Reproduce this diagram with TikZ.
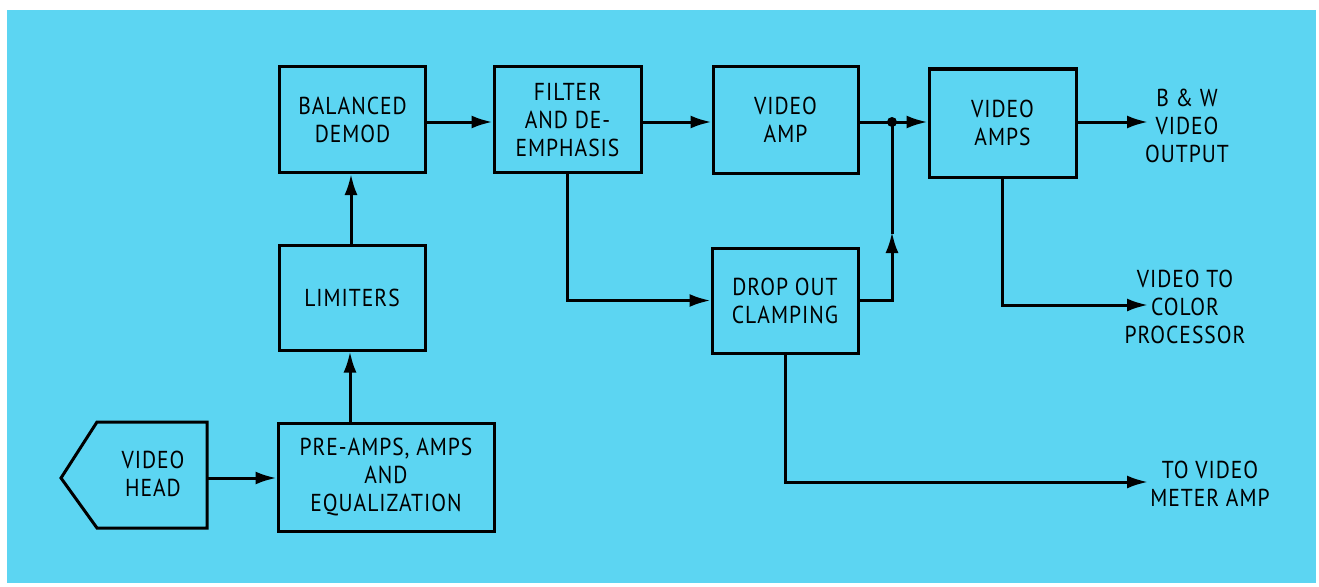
\documentclass[tikz,border=0pt]{standalone}
\usepackage{fontspec}
\setmainfont[LetterSpace=4,FakeStretch=0.88]{PT Sans}
\usetikzlibrary{arrows.meta}
\definecolor{bgblue}{HTML}{5CD5F2}
\begin{document}
\begin{tikzpicture}[x=1pt,y=-1pt,
  blk/.style={draw=black,line width=3pt,minimum width=146pt,minimum height=106pt,inner sep=0pt,align=center,font=\fontsize{24.5}{28}\selectfont},
  lbl/.style={align=center,font=\fontsize{24.5}{28}\selectfont,inner sep=0pt},
  wire/.style={line width=3pt,line cap=rect},
  arr/.style={wire,-{Latex[length=21pt,width=13pt]}}]
\useasboundingbox (0,0) rectangle (1319,586);
\fill[white] (0,0) rectangle (1319,586);
\fill[bgblue] (7,10) rectangle (1316,583);
% video head
\draw[line width=3pt,line join=miter] (61,478) -- (97,422) -- (207,422) -- (207,528) -- (97,528) -- cycle;
\node[lbl] (head) at (153,474) {VIDEO\\HEAD};
\coordinate (headR) at (207,478);
% blocks
\node[blk] (bal) at (352.5,119.5) {BALANCED\\DEMOD};
\node[blk,minimum height=105pt] (lim) at (352,297.5) {LIMITERS};
\node[blk,minimum width=216pt,minimum height=108pt] (pre) at (386,477) {PRE-AMPS, AMPS\\AND\\EQUALIZATION};
\node[blk,minimum width=147pt] (filt) at (567.5,119.5) {FILTER\\AND DE-\\EMPHASIS};
\node[blk,minimum width=145pt] (vamp) at (785.5,120) {VIDEO\\AMP};
\node[blk,minimum width=147pt,minimum height=108pt] (vamps) at (1002.5,123) {VIDEO\\AMPS};
\node[blk,minimum height=105pt] (drop) at (785,300.5) {DROP OUT\\CLAMPING};
% junction
\fill (892,122) circle (5pt);
\coordinate (junc) at (892,122);
\coordinate (upmid) at (892,232);
% outputs
\node[lbl] (bw) at (1187,126) {B \& W\\VIDEO\\OUTPUT};
\node[lbl] (color) at (1185,307) {VIDEO TO\\COLOR\\PROCESSOR};
\node[lbl] (meter) at (1210,484) {TO VIDEO\\METER AMP};
\coordinate (bwIn) at (1148,122);
\coordinate (colIn) at (1148,305);
\coordinate (metIn) at (1148,482);
% connectors
\draw[arr] (headR) -- (pre.west |- headR);
\draw[arr] (pre.north -| 350,0) -- (lim.south -| 350,0);
\draw[arr] (lim.north -| 351,0) -- (bal.south -| 351,0);
\draw[arr] (bal.east |- 0,122) -- (filt.west |- 0,122);
\draw[arr] (filt.east |- 0,122) -- (vamp.west |- 0,122);
\draw[wire] (vamp.east |- junc) -- (junc);
\draw[arr] (junc) -- (vamps.west |- junc);
\draw[arr] (filt.south) |- (drop.west);
\draw[arr] (drop.east) -| (upmid);
\draw[wire] (upmid) -- (junc);
\draw[arr] (vamps.east |- bwIn) -- (bwIn);
\draw[arr] (vamps.south -| 1002,0) |- (colIn);
\draw[arr] (drop.south) |- (metIn);
\end{tikzpicture}
\end{document}
